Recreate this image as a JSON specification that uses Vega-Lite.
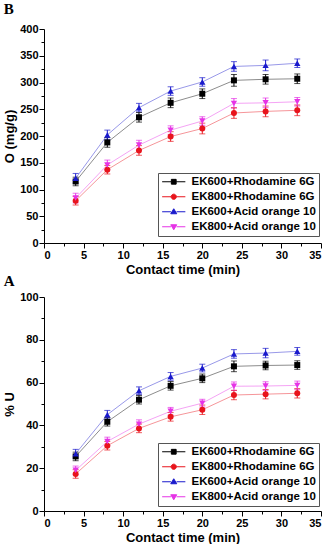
{
  "$schema": "https://vega.github.io/schema/vega-lite/v6.json",
  "padding": {"left": 3, "top": 2, "right": 0, "bottom": 0},
  "background": "white",
  "spacing": -2,
  "datasets": {
    "B": [
      {"series": "EK600+Rhodamine 6G", "t": 4, "v": 115, "err": 8},
      {"series": "EK600+Rhodamine 6G", "t": 8, "v": 188, "err": 9},
      {"series": "EK600+Rhodamine 6G", "t": 12, "v": 235, "err": 9},
      {"series": "EK600+Rhodamine 6G", "t": 16, "v": 262, "err": 9},
      {"series": "EK600+Rhodamine 6G", "t": 20, "v": 279, "err": 9},
      {"series": "EK600+Rhodamine 6G", "t": 24, "v": 304, "err": 11},
      {"series": "EK600+Rhodamine 6G", "t": 28, "v": 306, "err": 9},
      {"series": "EK600+Rhodamine 6G", "t": 32, "v": 307, "err": 9},
      {"series": "EK800+Rhodamine 6G", "t": 4, "v": 79, "err": 8},
      {"series": "EK800+Rhodamine 6G", "t": 8, "v": 137, "err": 8},
      {"series": "EK800+Rhodamine 6G", "t": 12, "v": 173, "err": 9},
      {"series": "EK800+Rhodamine 6G", "t": 16, "v": 199, "err": 9},
      {"series": "EK800+Rhodamine 6G", "t": 20, "v": 214, "err": 10},
      {"series": "EK800+Rhodamine 6G", "t": 24, "v": 243, "err": 10},
      {"series": "EK800+Rhodamine 6G", "t": 28, "v": 246, "err": 10},
      {"series": "EK800+Rhodamine 6G", "t": 32, "v": 248, "err": 10},
      {"series": "EK600+Acid orange 10", "t": 4, "v": 121, "err": 9},
      {"series": "EK600+Acid orange 10", "t": 8, "v": 202, "err": 9},
      {"series": "EK600+Acid orange 10", "t": 12, "v": 253, "err": 8},
      {"series": "EK600+Acid orange 10", "t": 16, "v": 284, "err": 8},
      {"series": "EK600+Acid orange 10", "t": 20, "v": 301, "err": 8},
      {"series": "EK600+Acid orange 10", "t": 24, "v": 330, "err": 9},
      {"series": "EK600+Acid orange 10", "t": 28, "v": 332, "err": 10},
      {"series": "EK600+Acid orange 10", "t": 32, "v": 336, "err": 8},
      {"series": "EK800+Acid orange 10", "t": 4, "v": 84, "err": 9},
      {"series": "EK800+Acid orange 10", "t": 8, "v": 146, "err": 9},
      {"series": "EK800+Acid orange 10", "t": 12, "v": 183, "err": 9},
      {"series": "EK800+Acid orange 10", "t": 16, "v": 211, "err": 8},
      {"series": "EK800+Acid orange 10", "t": 20, "v": 228, "err": 8},
      {"series": "EK800+Acid orange 10", "t": 24, "v": 261, "err": 9},
      {"series": "EK800+Acid orange 10", "t": 28, "v": 262, "err": 9},
      {"series": "EK800+Acid orange 10", "t": 32, "v": 264, "err": 8}
    ],
    "A": [
      {"series": "EK600+Rhodamine 6G", "t": 4, "v": 25.5, "err": 2},
      {"series": "EK600+Rhodamine 6G", "t": 8, "v": 41.7, "err": 2},
      {"series": "EK600+Rhodamine 6G", "t": 12, "v": 52, "err": 2},
      {"series": "EK600+Rhodamine 6G", "t": 16, "v": 58.5, "err": 2},
      {"series": "EK600+Rhodamine 6G", "t": 20, "v": 62, "err": 2},
      {"series": "EK600+Rhodamine 6G", "t": 24, "v": 67.6, "err": 2.5},
      {"series": "EK600+Rhodamine 6G", "t": 28, "v": 68, "err": 2},
      {"series": "EK600+Rhodamine 6G", "t": 32, "v": 68.2, "err": 2},
      {"series": "EK800+Rhodamine 6G", "t": 4, "v": 17.3, "err": 2},
      {"series": "EK800+Rhodamine 6G", "t": 8, "v": 30.5, "err": 2},
      {"series": "EK800+Rhodamine 6G", "t": 12, "v": 38.6, "err": 2},
      {"series": "EK800+Rhodamine 6G", "t": 16, "v": 44, "err": 2},
      {"series": "EK800+Rhodamine 6G", "t": 20, "v": 47.3, "err": 2.2},
      {"series": "EK800+Rhodamine 6G", "t": 24, "v": 54.2, "err": 2.2},
      {"series": "EK800+Rhodamine 6G", "t": 28, "v": 54.6, "err": 2.2},
      {"series": "EK800+Rhodamine 6G", "t": 32, "v": 55, "err": 2.2},
      {"series": "EK600+Acid orange 10", "t": 4, "v": 26.8, "err": 2},
      {"series": "EK600+Acid orange 10", "t": 8, "v": 45, "err": 2},
      {"series": "EK600+Acid orange 10", "t": 12, "v": 56.2, "err": 1.8},
      {"series": "EK600+Acid orange 10", "t": 16, "v": 62.9, "err": 1.8},
      {"series": "EK600+Acid orange 10", "t": 20, "v": 66.8, "err": 1.8},
      {"series": "EK600+Acid orange 10", "t": 24, "v": 73.4, "err": 2},
      {"series": "EK600+Acid orange 10", "t": 28, "v": 73.8, "err": 2.2},
      {"series": "EK600+Acid orange 10", "t": 32, "v": 74.6, "err": 1.8},
      {"series": "EK800+Acid orange 10", "t": 4, "v": 19, "err": 2},
      {"series": "EK800+Acid orange 10", "t": 8, "v": 32.5, "err": 2},
      {"series": "EK800+Acid orange 10", "t": 12, "v": 40.6, "err": 2},
      {"series": "EK800+Acid orange 10", "t": 16, "v": 46.6, "err": 1.8},
      {"series": "EK800+Acid orange 10", "t": 20, "v": 50.4, "err": 1.8},
      {"series": "EK800+Acid orange 10", "t": 24, "v": 58.3, "err": 2},
      {"series": "EK800+Acid orange 10", "t": 28, "v": 58.4, "err": 2},
      {"series": "EK800+Acid orange 10", "t": 32, "v": 58.7, "err": 2}
    ]
  },
  "resolve": {"legend": {"color": "independent"}, "scale": {"y": "independent"}},
  "vconcat": [
    {
      "title": {"text": "B", "anchor": "start", "font": "Liberation Serif", "fontSize": 15, "fontWeight": "bold", "offset": 6, "frame": "bounds", "color": "black"},
      "width": 277,
      "height": 214,
      "data": {"name": "B"},
      "encoding": {
        "x": {"field": "t", "type": "quantitative", "scale": {"domain": [0, 35], "nice": false, "zero": false},
              "axis": {"title": "Contact time (min)", "values": [0, 2.5, 5, 7.5, 10, 12.5, 15, 17.5, 20, 22.5, 25, 27.5, 30, 32.5, 35],
                       "labelExpr": "datum.value % 5 === 0 ? datum.label : ''",
                       "tickSize": {"condition": {"test": "datum.value % 5 === 0", "value": 5}, "value": 3}}},
        "y": {"field": "v", "type": "quantitative", "scale": {"domain": [0, 400], "nice": false},
              "axis": {"title": "O (mg/g)", "values": [0, 25, 50, 75, 100, 125, 150, 175, 200, 225, 250, 275, 300, 325, 350, 375, 400],
                       "labelExpr": "datum.value % 50 === 0 ? datum.label : ''",
                       "tickSize": {"condition": {"test": "datum.value % 50 === 0", "value": 5}, "value": 3}}},
        "color": {"field": "series", "type": "nominal",
                  "scale": {"domain": ["EK600+Rhodamine 6G", "EK800+Rhodamine 6G", "EK600+Acid orange 10", "EK800+Acid orange 10"], "range": ["#000000", "#e8141c", "#1a1acc", "#e633e6"]},
                  "legend": {"title": null, "orient": "none", "legendX": 114, "legendY": 144,
                             "encode": {"symbols": {"update": {
                               "shape": {"signal": "datum.value == 'EK600+Rhodamine 6G' ? 'M-2.9,0L-0.6,0M0.6,0L2.9,0M-0.6,-0.6L0.6,-0.6L0.6,0.6L-0.6,0.6Z' : datum.value == 'EK800+Rhodamine 6G' ? 'M-2.9,0L-0.65,0M0.65,0L2.9,0M-0.65,0A0.65,0.65,0,1,1,0.65,0A0.65,0.65,0,1,1,-0.65,0Z' : datum.value == 'EK600+Acid orange 10' ? 'M-2.9,0L-0.7,0M0.7,0L2.9,0M0,-0.75L0.75,0.5L-0.75,0.5Z' : 'M-2.9,0L-0.7,0M0.7,0L2.9,0M0,0.75L0.75,-0.5L-0.75,-0.5Z'"},
                               "stroke": {"signal": "datum.value == 'EK600+Rhodamine 6G' ? '#666666' : datum.value == 'EK800+Rhodamine 6G' ? '#ee5555' : datum.value == 'EK600+Acid orange 10' ? '#5555bb' : '#ee66ee'"},
                               "strokeWidth": {"value": 1},
                               "opacity": {"value": 1}}}}}}
      },
      "layer": [
        {"mark": {"type": "line", "strokeWidth": 1, "opacity": 0.45}},
        {"mark": {"type": "errorbar", "ticks": {"size": 6, "thickness": 1}, "thickness": 1}, "encoding": {"yError": {"field": "err"}}},
        {"transform": [{"filter": {"field": "series", "equal": "EK600+Rhodamine 6G"}}], "mark": {"type": "point", "filled": true, "size": 36, "opacity": 1, "shape": "square"}},
        {"transform": [{"filter": {"field": "series", "equal": "EK800+Rhodamine 6G"}}], "mark": {"type": "point", "filled": true, "size": 36, "opacity": 1, "shape": "circle"}},
        {"transform": [{"filter": {"field": "series", "equal": "EK600+Acid orange 10"}}], "mark": {"type": "point", "filled": true, "size": 40, "opacity": 1, "shape": "triangle-up"}},
        {"transform": [{"filter": {"field": "series", "equal": "EK800+Acid orange 10"}}], "mark": {"type": "point", "filled": true, "size": 40, "opacity": 1, "shape": "triangle-down"}}
      ]
    },
    {
      "title": {"text": "A", "anchor": "start", "font": "Liberation Serif", "fontSize": 15, "fontWeight": "bold", "offset": 2, "frame": "bounds", "color": "black"},
      "width": 277,
      "height": 214,
      "data": {"name": "A"},
      "encoding": {
        "x": {"field": "t", "type": "quantitative", "scale": {"domain": [0, 35], "nice": false, "zero": false},
              "axis": {"title": "Contact time (min)", "values": [0, 2.5, 5, 7.5, 10, 12.5, 15, 17.5, 20, 22.5, 25, 27.5, 30, 32.5, 35],
                       "labelExpr": "datum.value % 5 === 0 ? datum.label : ''",
                       "tickSize": {"condition": {"test": "datum.value % 5 === 0", "value": 5}, "value": 3}}},
        "y": {"field": "v", "type": "quantitative", "scale": {"domain": [0, 100], "nice": false},
              "axis": {"title": "% U", "values": [0, 10, 20, 30, 40, 50, 60, 70, 80, 90, 100],
                       "labelExpr": "datum.value % 20 === 0 ? datum.label : ''",
                       "tickSize": {"condition": {"test": "datum.value % 20 === 0", "value": 5}, "value": 3}}},
        "color": {"field": "series", "type": "nominal",
                  "scale": {"domain": ["EK600+Rhodamine 6G", "EK800+Rhodamine 6G", "EK600+Acid orange 10", "EK800+Acid orange 10"], "range": ["#000000", "#e8141c", "#1a1acc", "#e633e6"]},
                  "legend": {"title": null, "orient": "none", "legendX": 114, "legendY": 146,
                             "encode": {"symbols": {"update": {
                               "shape": {"signal": "datum.value == 'EK600+Rhodamine 6G' ? 'M-2.9,0L-0.6,0M0.6,0L2.9,0M-0.6,-0.6L0.6,-0.6L0.6,0.6L-0.6,0.6Z' : datum.value == 'EK800+Rhodamine 6G' ? 'M-2.9,0L-0.65,0M0.65,0L2.9,0M-0.65,0A0.65,0.65,0,1,1,0.65,0A0.65,0.65,0,1,1,-0.65,0Z' : datum.value == 'EK600+Acid orange 10' ? 'M-2.9,0L-0.7,0M0.7,0L2.9,0M0,-0.75L0.75,0.5L-0.75,0.5Z' : 'M-2.9,0L-0.7,0M0.7,0L2.9,0M0,0.75L0.75,-0.5L-0.75,-0.5Z'"},
                               "stroke": {"signal": "datum.value == 'EK600+Rhodamine 6G' ? '#666666' : datum.value == 'EK800+Rhodamine 6G' ? '#ee5555' : datum.value == 'EK600+Acid orange 10' ? '#5555bb' : '#ee66ee'"},
                               "strokeWidth": {"value": 1},
                               "opacity": {"value": 1}}}}}}
      },
      "layer": [
        {"mark": {"type": "line", "strokeWidth": 1, "opacity": 0.45}},
        {"mark": {"type": "errorbar", "ticks": {"size": 6, "thickness": 1}, "thickness": 1}, "encoding": {"yError": {"field": "err"}}},
        {"transform": [{"filter": {"field": "series", "equal": "EK600+Rhodamine 6G"}}], "mark": {"type": "point", "filled": true, "size": 36, "opacity": 1, "shape": "square"}},
        {"transform": [{"filter": {"field": "series", "equal": "EK800+Rhodamine 6G"}}], "mark": {"type": "point", "filled": true, "size": 36, "opacity": 1, "shape": "circle"}},
        {"transform": [{"filter": {"field": "series", "equal": "EK600+Acid orange 10"}}], "mark": {"type": "point", "filled": true, "size": 40, "opacity": 1, "shape": "triangle-up"}},
        {"transform": [{"filter": {"field": "series", "equal": "EK800+Acid orange 10"}}], "mark": {"type": "point", "filled": true, "size": 40, "opacity": 1, "shape": "triangle-down"}}
      ]
    }
  ],
  "config": {
    "view": {"stroke": null},
    "font": "Liberation Sans",
    "axis": {"grid": false, "domainColor": "black", "tickColor": "black", "labelColor": "black", "titleColor": "black",
             "labelFont": "Liberation Sans", "labelFontWeight": "bold", "labelFontSize": 11, "labelPadding": 1,
             "titleFont": "Liberation Sans", "titleFontWeight": "bold", "titleFontSize": 13, "tickWidth": 1, "domainWidth": 1},
    "axisX": {"titlePadding": 3},
    "axisY": {"titlePadding": 3},
    "legend": {"labelFont": "Liberation Sans", "labelFontWeight": "bold", "labelFontSize": 11.5, "labelColor": "black",
               "strokeColor": "#555555", "padding": 3, "symbolSize": 64, "symbolOffset": 7, "labelOffset": 12, "rowPadding": 2, "fillColor": "white"}
  }
}
